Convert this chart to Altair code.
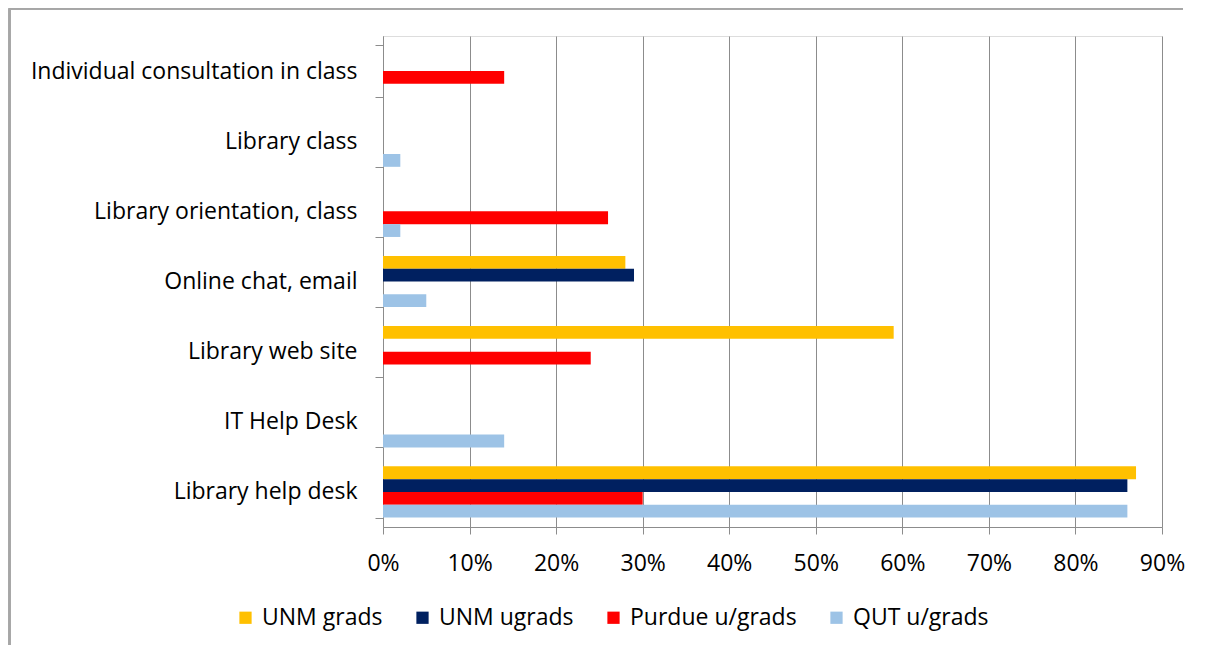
import altair as alt
import pandas as pd

categories = [
    "Individual consultation in class",
    "Library class",
    "Library orientation, class",
    "Online chat, email",
    "Library web site",
    "IT Help Desk",
    "Library help desk",
]
series = ["UNM grads", "UNM ugrads", "Purdue u/grads", "QUT u/grads"]
colors = ["#FFC000", "#002060", "#FF0000", "#9DC3E6"]

unm_grads = [None, None, None, 0.28, 0.59, None, 0.87]
unm_ugrads = [None, None, None, 0.29, None, None, 0.86]
purdue = [0.14, None, 0.26, None, 0.24, None, 0.30]
qut = [None, 0.02, 0.02, 0.05, None, 0.14, 0.86]

x_ticks = [0, 0.1, 0.2, 0.3, 0.4, 0.5, 0.6, 0.7, 0.8, 0.9]

rows = []
for s, vals in zip(series, [unm_grads, unm_ugrads, purdue, qut]):
    for c, v in zip(categories, vals):
        if v is not None:
            rows.append({"category": c, "series": s, "value": v})
df = pd.DataFrame(rows)

FONT = "Open Sans"
FS = 23
GRAY = "#8C8C8C"

bars = alt.Chart(df).mark_bar().encode(
    y=alt.Y(
        "category:N",
        sort=categories,
        scale=alt.Scale(paddingInner=0.27, paddingOuter=0.135),
        axis=alt.Axis(
            title=None,
            tickBand="extent",
            tickSize=8,
            tickColor=GRAY,
            domainColor=GRAY,
            labelFontSize=FS,
            labelFont=FONT,
            labelColor="#000000",
            labelPadding=18,
            labelLimit=400,
            grid=False,
        ),
    ),
    yOffset=alt.YOffset("series:N", sort=series, scale=alt.Scale(paddingInner=0, paddingOuter=0)),
    x=alt.X(
        "value:Q",
        scale=alt.Scale(domain=[0, 0.9], nice=False),
        axis=alt.Axis(
            title=None,
            values=x_ticks,
            format=".0%",
            tickSize=7,
            tickColor=GRAY,
            domainColor=GRAY,
            gridColor=GRAY,
            gridWidth=1,
            labelFontSize=FS,
            labelFont=FONT,
            labelColor="#000000",
            labelPadding=18,
            labelFlush=False,
        ),
    ),
    color=alt.Color(
        "series:N",
        sort=series,
        scale=alt.Scale(domain=series, range=colors),
        legend=alt.Legend(
            title=None,
            orient="none",
            direction="horizontal",
            legendX=-149,
            legendY=570,
            symbolType="square",
            symbolSize=150,
            symbolStrokeWidth=0,
            labelFontSize=FS,
            labelFont=FONT,
            labelColor="#000000",
            labelLimit=300,
            columnPadding=28,
            labelOffset=5,
        ),
    ),
)

frame_left = alt.Chart(df).mark_rule(color="#A6A6A6", strokeWidth=1.5).encode(
    x=alt.value(-373.5), y=alt.value(-27.5), y2=alt.value(609)
)
frame_top = alt.Chart(df).mark_rule(color="#A6A6A6", strokeWidth=1.5).encode(
    x=alt.value(-373.5), x2=alt.value(800), y=alt.value(-27.5)
)

chart = (
    alt.layer(bars, frame_left, frame_top)
    .properties(
        width=779,
        height=491,
        autosize=alt.AutoSizeParams(type="none"),
        padding={"left": 375, "top": 28, "right": 38, "bottom": 118},
    )
    .configure_view(stroke=None)
    .configure(background="white")
)

chart.save("out.html", embed_options={"renderer": "svg", "actions": False})
